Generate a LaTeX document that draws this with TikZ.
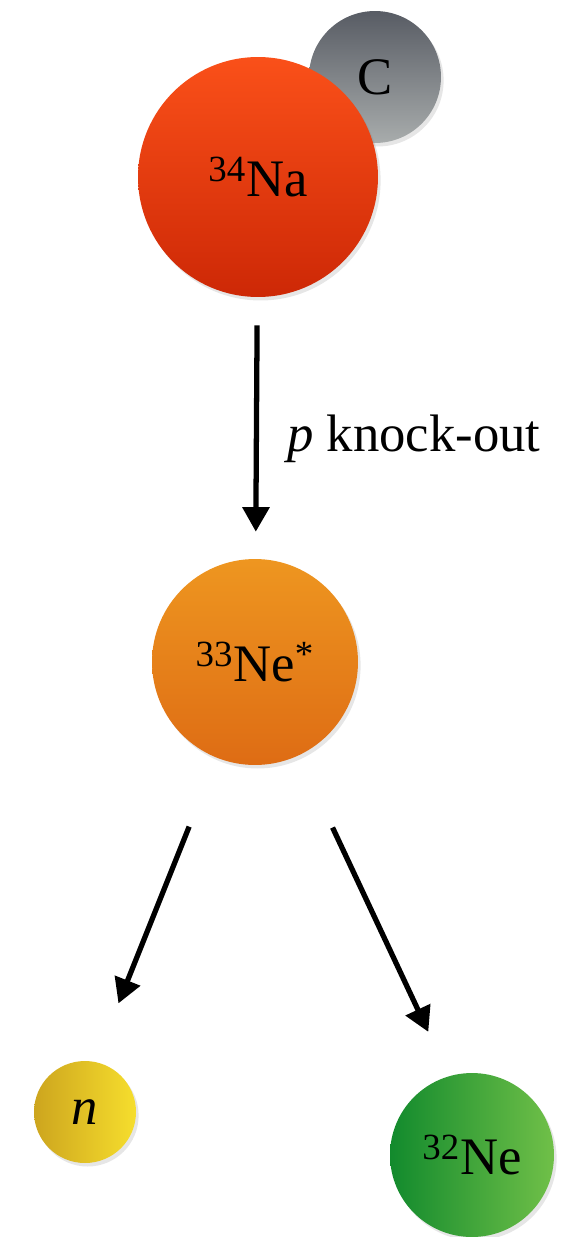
\documentclass[tikz,border=0pt]{standalone}
\usepackage{fontspec}
\setmainfont{Liberation Serif}
\usetikzlibrary{arrows.meta, shadows}

\definecolor{naTop}{RGB}{250,80,25}
\definecolor{naBot}{RGB}{205,40,6}
\definecolor{cTop}{RGB}{88,92,100}
\definecolor{cBot}{RGB}{168,172,172}
\definecolor{neTop}{RGB}{238,150,32}
\definecolor{neBot}{RGB}{222,108,20}
\definecolor{nLeft}{RGB}{205,165,30}
\definecolor{nRight}{RGB}{246,222,45}
\definecolor{ngLeft}{RGB}{18,138,45}
\definecolor{ngRight}{RGB}{112,192,72}

\begin{document}
\begin{tikzpicture}[x=0.02cm, y=-0.02cm,
  nucl/.style={circle, inner sep=0pt, font=\fontsize{30}{34}\selectfont,
    drop shadow={shadow xshift=1.5pt, shadow yshift=-2pt, opacity=0.2}},
  arr/.style={line width=3pt, -{Triangle[length=14pt, width=15pt]}},
  lbl/.style={font=\fontsize{30}{34}\selectfont, inner sep=0pt}
]
\useasboundingbox (0,0) rectangle (567,1237);

\node[nucl, minimum size=2.64cm, top color=cTop, bottom color=cBot] (carbon) at (375,77) {C};
\node[nucl, minimum size=4.8cm, top color=naTop, bottom color=naBot] (na) at (258,177) {\textsuperscript{34}Na};
\node[nucl, minimum size=4.12cm, top color=neTop, bottom color=neBot] (ne33) at (255,662) {\textsuperscript{33}Ne\textsuperscript{*}};
\node[nucl, minimum size=2.04cm, left color=nLeft, right color=nRight] (neutron) at (85,1112) {\textit{n}};
\node[nucl, minimum size=3.28cm, left color=ngLeft, right color=ngRight] (ne32) at (472,1155) {\textsuperscript{32}Ne};

% Arrows
\draw[arr, shorten <=0.56cm, shorten >=0.54cm] (na) -- node[lbl, right, pos=0.54, xshift=16pt]{\textit{p} knock-out} (ne33);
\draw[arr, shorten <=1.48cm, shorten >=2.34cm] (ne33) -- ([xshift=-0.2cm]neutron.center);
\draw[arr, shorten <=1.59cm, shorten >=2.72cm] (ne33) -- ([xshift=0.28cm]ne32.center);

\end{tikzpicture}
\end{document}
